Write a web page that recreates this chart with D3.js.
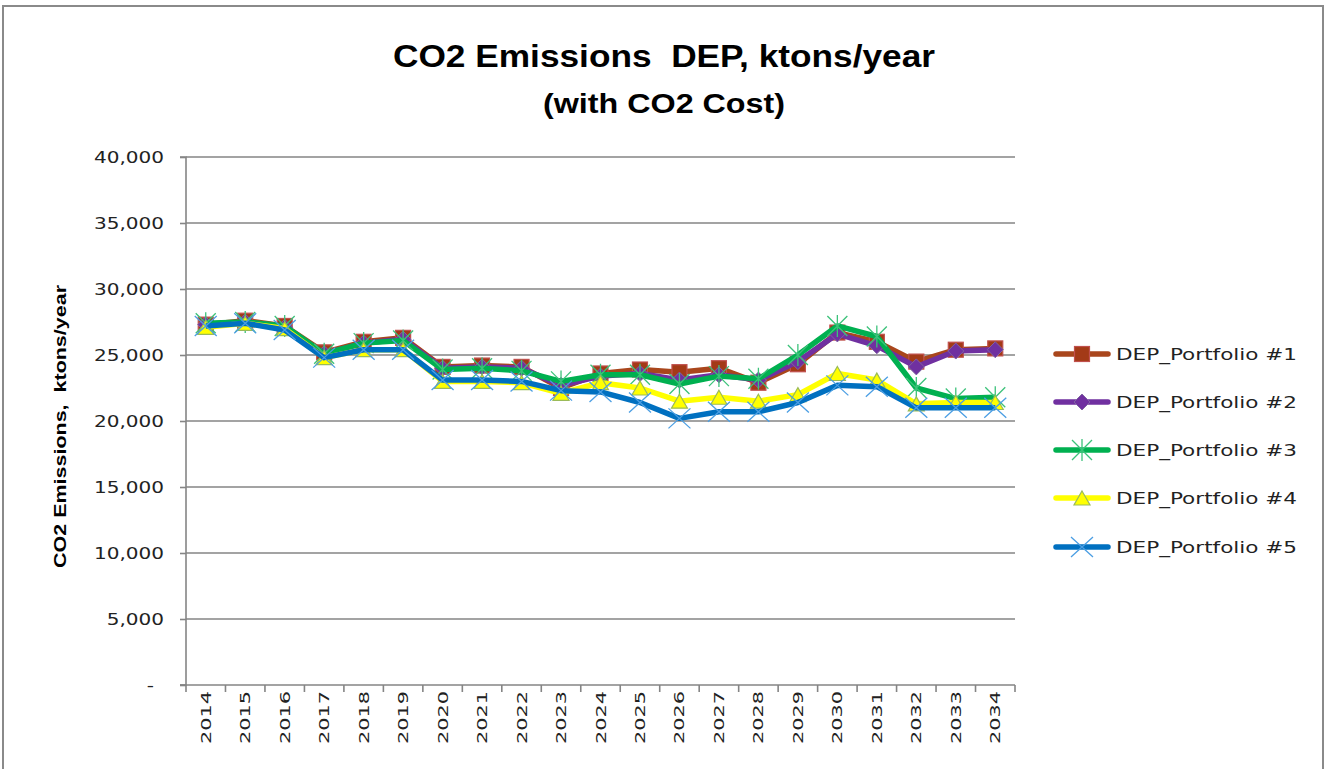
<!DOCTYPE html>
<html>
<head>
<meta charset="utf-8">
<script src="https://cdn.jsdelivr.net/npm/d3@7"></script>
<style>
  html, body { margin: 0; padding: 0; background: #fff; }
  svg { display: block; }
  text { white-space: pre; }
</style>
</head>
<body>
<svg id="chart" width="1330" height="769"></svg>
<script>
// ---------------- DATA ----------------
const years = ["2014","2015","2016","2017","2018","2019","2020","2021","2022","2023","2024",
               "2025","2026","2027","2028","2029","2030","2031","2032","2033","2034"];
const seriesNames = ["DEP_Portfolio #1","DEP_Portfolio #2","DEP_Portfolio #3","DEP_Portfolio #4","DEP_Portfolio #5"];
const portfolio1 = [27300,27600,27200,25200,26000,26300,24100,24200,24100,22500,23600,23900,23700,24000,22900,24300,26700,26000,24500,25400,25500];
const portfolio2 = [27300,27500,27100,25100,25900,26200,24000,24100,24000,22700,23400,23600,23100,23500,23100,24500,26600,25700,24100,25300,25400];
const portfolio3 = [27400,27500,27200,25100,25900,26100,23900,24000,23800,23000,23500,23500,22800,23400,23200,25000,27200,26400,22500,21700,21800];
const portfolio4 = [27100,27400,27000,24800,25400,25400,23000,23000,22900,22100,22900,22500,21500,21800,21500,22000,23600,23100,21300,21400,21400];
const portfolio5 = [27200,27400,26900,24800,25400,25400,23100,23100,23000,22300,22200,21400,20200,20700,20700,21400,22700,22600,21000,21000,21000];
const yTicks = [0,5000,10000,15000,20000,25000,30000,35000,40000];
const titleText = "CO2 Emissions  DEP, ktons/year";
const subtitleText = "(with CO2 Cost)";
const yAxisTitle = "CO2 Emissions,  ktons/year";

// ---------------- STYLE ----------------
const styles = [
  {line:"#A9461C", marker:"square",   fill:"#A33A17", stroke:"#C0504D"},
  {line:"#7030A0", marker:"diamond",  fill:"#7030A0", stroke:"#8064A2"},
  {line:"#00B050", marker:"star",     fill:"none",    stroke:"#3CC27A"},
  {line:"#FFFF00", marker:"triangle", fill:"#FFFF00", stroke:"#9BBB59"},
  {line:"#0070C0", marker:"x",        fill:"none",    stroke:"#4B9EE3"}
];
const allSeries = [portfolio1, portfolio2, portfolio3, portfolio4, portfolio5];

const svg = d3.select("#chart");
const plot = {left:186, right:1015, top:157, bottom:685};

// outer border
svg.append("rect").attr("x",3).attr("y",6).attr("width",1320).attr("height",770)
  .attr("fill","#fff").attr("stroke","#8a8a8a").attr("stroke-width",2);

const x = d3.scaleBand().domain(years).range([plot.left, plot.right]).paddingInner(0).paddingOuter(0);
const y = d3.scaleLinear().domain([0,40000]).range([plot.bottom, plot.top]);
const cx = d => x(d) + x.bandwidth()/2;

function stretch(sel, k) {
  sel.each(function(){
    const w = this.getComputedTextLength();
    d3.select(this).attr("textLength", w*k).attr("lengthAdjust","spacingAndGlyphs");
  });
}

// gridlines
svg.append("g").selectAll("line").data(yTicks.filter(d=>d>0)).join("line")
  .attr("x1",plot.left).attr("x2",plot.right)
  .attr("y1",d=>y(d)).attr("y2",d=>y(d))
  .attr("stroke","#858585").attr("stroke-width",1.6);

// y axis
const yAxis = svg.append("g").attr("transform",`translate(${plot.left},0)`)
  .call(d3.axisLeft(y).tickValues(yTicks).tickSize(6).tickPadding(16)
    .tickFormat(d => d===0 ? "-" : d3.format(",")(d)));
yAxis.select(".domain").attr("stroke","#858585").attr("stroke-width",1.6).attr("d",`M-6,${plot.top}H0V${plot.bottom}H-6`);
yAxis.selectAll(".tick line").attr("stroke","#858585").attr("stroke-width",1.6);
yAxis.selectAll(".tick text").attr("font-family","DejaVu Sans, Verdana, sans-serif")
  .attr("font-size",16).attr("fill","#222");
yAxis.selectAll(".tick text").call(stretch, 1.25);
yAxis.selectAll(".tick").filter(d=>d===0).select("text").attr("x",-32);

// x axis
const xAxisG = svg.append("g");
xAxisG.append("line").attr("x1",plot.left-6).attr("x2",plot.right)
  .attr("y1",plot.bottom).attr("y2",plot.bottom)
  .attr("stroke","#858585").attr("stroke-width",1.6);
const boundaries = years.map(d => x(d)).concat([x(years[years.length-1]) + x.bandwidth()]);
xAxisG.selectAll("line.tk").data(boundaries).join("line").attr("class","tk")
  .attr("x1",d=>d).attr("x2",d=>d).attr("y1",plot.bottom).attr("y2",plot.bottom+7)
  .attr("stroke","#858585").attr("stroke-width",1.6);
xAxisG.selectAll("text").data(years).join("text")
  .attr("transform",d=>`translate(${cx(d)},${plot.bottom+6}) rotate(-90)`)
  .attr("text-anchor","end").attr("dy","0.36em")
  .attr("font-family","DejaVu Sans, Verdana, sans-serif").attr("font-size",14).attr("fill","#222")
  .text(d=>d)
  .attr("textLength",53).attr("lengthAdjust","spacingAndGlyphs");

// titles
svg.append("text").attr("x",664).attr("y",67).attr("text-anchor","middle")
  .attr("font-family","Liberation Sans Narrow, Liberation Sans, Arial, sans-serif")
  .attr("font-weight","bold").attr("font-size",32).attr("fill","#000").text(titleText)
  .attr("textLength",542).attr("lengthAdjust","spacingAndGlyphs");
svg.append("text").attr("x",664).attr("y",113).attr("text-anchor","middle")
  .attr("font-family","Liberation Sans Narrow, Liberation Sans, Arial, sans-serif")
  .attr("font-weight","bold").attr("font-size",27).attr("fill","#000").text(subtitleText)
  .attr("textLength",242).attr("lengthAdjust","spacingAndGlyphs");
svg.append("text").attr("transform",`translate(66,${(285+568)/2}) rotate(-90)`)
  .attr("text-anchor","middle")
  .attr("font-family","Liberation Sans Narrow, Liberation Sans, Arial, sans-serif")
  .attr("font-weight","bold").attr("font-size",17).attr("fill","#000").text(yAxisTitle)
  .attr("textLength",283).attr("lengthAdjust","spacingAndGlyphs");

// markers
function drawMarker(g, type, st) {
  if (type==="square") {
    g.append("rect").attr("x",-7.5).attr("y",-7.5).attr("width",15).attr("height",15)
      .attr("fill",st.fill).attr("stroke",st.stroke).attr("stroke-width",1.2);
  } else if (type==="diamond") {
    g.append("path").attr("d","M0,-8L8,0L0,8L-8,0Z")
      .attr("fill",st.fill).attr("stroke",st.stroke).attr("stroke-width",1);
  } else if (type==="triangle") {
    g.append("path").attr("d","M0,-7L8,7L-8,7Z")
      .attr("fill",st.fill).attr("stroke",st.stroke).attr("stroke-width",1.2);
  } else if (type==="star") {
    g.append("path").attr("d","M0,-11V11M-10,-10L10,10M-10,10L10,-10")
      .attr("fill","none").attr("stroke",st.stroke).attr("stroke-width",1.3);
  } else if (type==="x") {
    g.append("path").attr("d","M-11,-10L11,10M-11,10L11,-10")
      .attr("fill","none").attr("stroke",st.stroke).attr("stroke-width",1.3);
  }
}

const line = d3.line().x((d,i)=>cx(years[i])).y(d=>y(d));
allSeries.forEach((vals, si) => {
  const st = styles[si];
  const g = svg.append("g");
  g.append("path").datum(vals).attr("d",line).attr("fill","none")
    .attr("stroke",st.line).attr("stroke-width",5.5).attr("stroke-linejoin","round");
  g.selectAll("g.m").data(vals).join("g").attr("class","m")
    .attr("transform",(d,i)=>`translate(${cx(years[i])},${y(d)})`)
    .each(function(){ drawMarker(d3.select(this), st.marker, st); });
});

// legend
const legendY = [354, 402, 450, 498, 547];
seriesNames.forEach((name, si) => {
  const st = styles[si];
  const g = svg.append("g").attr("transform",`translate(0,${legendY[si]})`);
  g.append("line").attr("x1",1056).attr("x2",1108).attr("y1",0).attr("y2",0)
    .attr("stroke",st.line).attr("stroke-width",5.5).attr("stroke-linecap","round");
  drawMarker(g.append("g").attr("transform","translate(1082,0)"), st.marker, st);
  g.append("text").attr("x",1116).attr("y",0).attr("dy","0.36em")
    .attr("font-family","DejaVu Sans, Verdana, sans-serif").attr("font-size",16.5).attr("fill","#222")
    .text(name).attr("textLength",181).attr("lengthAdjust","spacingAndGlyphs");
});
</script>
</body>
</html>
